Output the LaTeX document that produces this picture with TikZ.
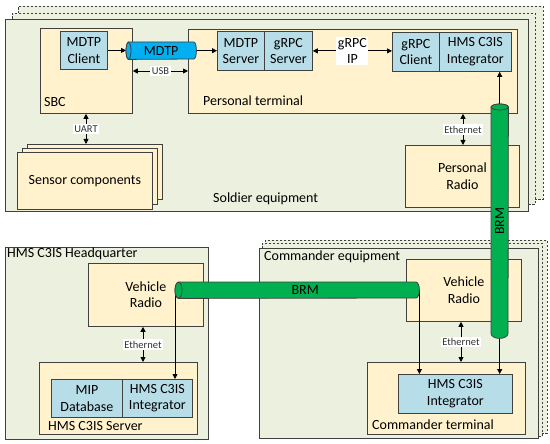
\documentclass[tikz,border=0pt]{standalone}
\usepackage{fontspec}
\setmainfont{Carlito}
\usetikzlibrary{arrows.meta,calc}
\definecolor{eqg}{RGB}{235,241,222}
\definecolor{tanc}{RGB}{255,242,204}
\definecolor{bluc}{RGB}{183,222,232}
\definecolor{lc}{RGB}{64,64,64}
\definecolor{mblue}{RGB}{0,176,240}
\definecolor{bgreen}{RGB}{0,176,80}
\tikzset{
  box/.style={draw=lc, line width=0.8pt, inner sep=0pt, anchor=north west},
  eq/.style={box, fill=eqg},
  tn/.style={box, fill=tanc},
  bl/.style={box, fill=bluc, align=center, font=\fontsize{14}{16.5}\selectfont},
  sc/.style={tn, align=center, font=\fontsize{14}{16.5}\selectfont},
  dsh/.style={dash pattern=on 2.5pt off 1.5pt},
  lab/.style={font=\fontsize{14}{16.5}\selectfont, inner sep=0pt},
  tip/.tip={Triangle[length=5pt,width=5pt]},
  arr/.style={-tip, line width=0.8pt, black},
  darr/.style={tip-tip, line width=0.8pt, black},
  small/.style={font=\fontsize{10.5}{12}\selectfont, fill=white, inner sep=1.5pt, text=black!80},
  wlab/.style={font=\fontsize{14}{16.5}\selectfont, fill=white, inner sep=1.5pt, align=center},
  cyl/.style={inner sep=0pt, anchor=north west},
  cylpath/.style={draw=lc, line width=0.8pt}
}
\begin{document}
\begin{tikzpicture}[x=1pt,y=-1pt]
\useasboundingbox (0,0) rectangle (550,444);

% ---------------- Soldier equipment ----------------
\node[eq,dsh,minimum width=525,minimum height=193] (sb2) at (18,6) {};
\node[eq,dsh,minimum width=523,minimum height=191] (sb1) at (12,13) {};
\node[eq,minimum width=523,minimum height=192] (se) at (5,19) {};
\node[lab,anchor=base west] (sel) at (213,203) {Soldier equipment};

\node[tn,minimum width=92,minimum height=85] (sbc) at (40,28) {};
\node[lab,anchor=base west] (sbcl) at (44,107) {SBC};
\node[bl,minimum width=47,minimum height=38] (mc) at (60,31) {MDTP\\Client};

\node[tn,minimum width=329,minimum height=84] (pt) at (188,29) {};
\node[lab,anchor=base west] (ptl) at (203,106) {Personal terminal};
\node[bl,minimum width=47,minimum height=39] (ms) at (217,31) {MDTP\\Server};
\node[bl,minimum width=48,minimum height=39] (gs) at (264,31) {gRPC\\Server};
\node[bl,minimum width=47,minimum height=39] (gc) at (392,32) {gRPC\\Client};
\node[bl,minimum width=72,minimum height=39] (pint) at (439,32) {HMS C3IS\\Integrator};

\node[sc,minimum width=114,minimum height=62] (pr) at (405,145) {Personal\\Radio};

\node[tn,minimum width=135,minimum height=55] (sen2) at (27,144) {};
\node[tn,minimum width=135,minimum height=56] (sen1) at (22,148) {};
\node[sc,minimum width=135,minimum height=57] (sen) at (17,152) {Sensor components};

% ---------------- HQ ----------------
\node[eq,minimum width=203,minimum height=192] (hq) at (5,247) {};
\node[lab,anchor=base west] (hql) at (7,258) {HMS C3IS Headquarter};
\node[sc,minimum width=115,minimum height=63] (vrh) at (88,263) {Vehicle\\Radio};
\node[tn,minimum width=158,minimum height=72] (srv) at (39,362) {};
\node[lab,anchor=base west] (srvl) at (48,430) {HMS C3IS Server};
\node[bl,minimum width=71,minimum height=38] (mip) at (51,379) {MIP\\Database};
\node[bl,minimum width=70,minimum height=38] (ih) at (122,379) {HMS C3IS\\Integrator};

% ---------------- Commander ----------------
\node[eq,dsh,minimum width=282,minimum height=193] (cb2) at (265,240) {};
\node[eq,dsh,minimum width=280,minimum height=193] (cb1) at (262,243) {};
\node[eq,minimum width=279,minimum height=190] (ce) at (259,248) {};
\node[lab,anchor=base west] (cel) at (264,260) {Commander equipment};
\node[sc,minimum width=115,minimum height=62] (vrc) at (406,259) {Vehicle\\Radio};
\node[tn,minimum width=158,minimum height=72] (ct) at (367,362) {};
\node[lab,anchor=base west] (ctl) at (372,429) {Commander terminal};
\node[bl,minimum width=114,minimum height=39] (ic) at (398,374) {HMS C3IS\\Integrator};

% ---------------- cylinders (anchors) ----------------
\node[cyl,minimum width=70,minimum height=17] (mdtp) at (126,42) {};
\node[cyl,minimum width=244,minimum height=16] (brmh) at (175,282) {};
\node[cyl,minimum width=17,minimum height=234] (brmv) at (491,104) {};

% ---------------- connectors ----------------
\coordinate (usby) at (0,71);
\coordinate (ux) at (86,0);
\coordinate (e1) at (463,0);
\coordinate (e2) at (143,0);
\coordinate (e3) at (461,0);

\draw[arr] (mc.east) -- (mc.east -| mdtp.west);
\draw[arr] (mdtp.east) -- (mdtp.east -| ms.west);
\draw[darr] (sbc.east |- usby) -- (pt.west |- usby) node[small,midway] (usbl) {USB};
\draw[darr] (gs.east) -- (gs.east -| gc.west) node[wlab,midway] (gipl) {gRPC\\IP};
\draw[darr] (sbc.south -| ux) -- (sen2.north -| ux) node[small,midway] (uartl) {UART};
\draw[darr] (pt.south -| e1) -- (pr.north -| e1) node[small,midway] (eth1) {Ethernet};
\draw[darr] (vrh.south -| e2) -- (srv.north -| e2) node[small,midway] (eth2) {Ethernet};
\draw[darr] (vrc.south -| e3) -- (ct.north -| e3) node[small,midway] (eth3) {Ethernet};

\draw[arr] ([yshift=-3pt]brmv.north) -- (brmv.north |- pint.south);
\draw[arr] (brmv.south) -- (brmv.south |- ic.north);
\draw[arr] (brmh.east) -- (brmh.east |- ic.north);
\draw[arr] (brmh.west) -- (brmh.west |- ih.north);

% ---------------- cylinder shapes ----------------
\path[cylpath, fill=mblue]
  ([xshift=2.5pt]mdtp.north west) -- ([xshift=-2.5pt]mdtp.north east)
  arc[start angle=90, end angle=-90, x radius=2.5pt, y radius=8.5pt]
  -- ([xshift=2.5pt]mdtp.south west)
  arc[start angle=270, end angle=90, x radius=2.5pt, y radius=8.5pt] -- cycle;
\draw[cylpath, fill=mblue] ([xshift=2.5pt]mdtp.west) ellipse [x radius=2.5pt, y radius=8.5pt];
\node[lab] (mdtpl) at (mdtp.center) {MDTP};

\path[cylpath, fill=bgreen]
  ([xshift=3.5pt]brmh.north west) -- ([xshift=-3.5pt]brmh.north east)
  arc[start angle=90, end angle=-90, x radius=3.5pt, y radius=8pt]
  -- ([xshift=3.5pt]brmh.south west)
  arc[start angle=270, end angle=90, x radius=3.5pt, y radius=8pt] -- cycle;
\draw[cylpath, fill=bgreen] ([xshift=3.5pt]brmh.west) ellipse [x radius=3.5pt, y radius=8pt];
\node[lab] (brmhl) at ([xshift=8pt]brmh.center) {BRM};

\path[cylpath, fill=bgreen]
  ([yshift=-3pt]brmv.north west) -- ([yshift=5pt]brmv.south west)
  arc[start angle=180, end angle=360, x radius=8.5pt, y radius=5pt]
  -- ([yshift=-3pt]brmv.north east)
  arc[start angle=0, end angle=180, x radius=8.5pt, y radius=3pt] -- cycle;
\draw[cylpath, fill=bgreen] ([yshift=-3pt]brmv.north) ellipse [x radius=8.5pt, y radius=3pt];
\node[lab,rotate=90] (brmvl) at (brmv.center) {BRM};

\end{tikzpicture}
\end{document}
